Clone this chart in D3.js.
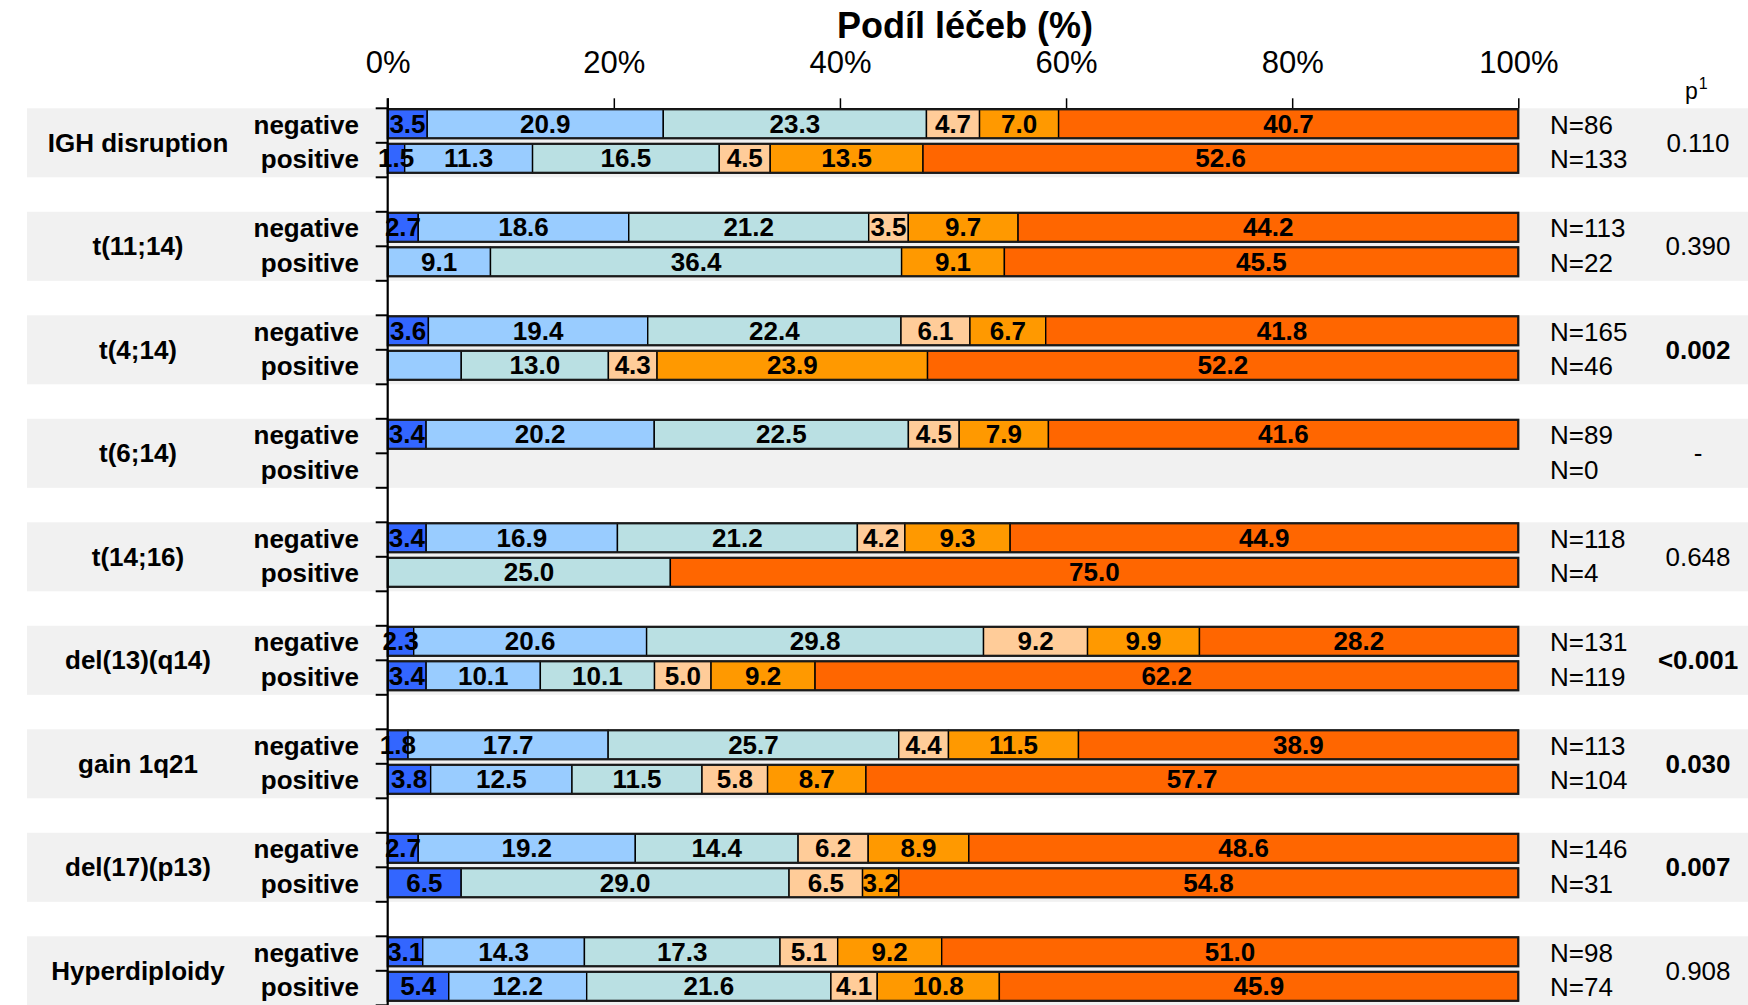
<!DOCTYPE html>
<html>
<head>
<meta charset="utf-8">
<script src="https://cdn.jsdelivr.net/npm/d3@7"></script>
<style>
  html, body { margin: 0; padding: 0; background: #ffffff; overflow: hidden; }
  svg { display: block; }
  text { font-family: "Liberation Sans", Arial, Helvetica, sans-serif; fill: #000; }
</style>
</head>
<body>
<svg id="chart" width="1748" height="1005"></svg>
<script>
// ---------------- data ----------------
const groups = ["IGH disruption", "t(11;14)", "t(4;14)", "t(6;14)", "t(14;16)",
                "del(13)(q14)", "gain 1q21", "del(17)(p13)", "Hyperdiploidy"];
const statuses = ["negative", "positive"];
const segmentKeys = ["s1", "s2", "s3", "s4", "s5", "s6"];
const segmentColors = ["#3366ff", "#99ccff", "#bae0e3", "#ffcc99", "#ff9900", "#ff6600"];

const negativeValues = [
  [3.5, 20.9, 23.3, 4.7, 7.0, 40.7],
  [2.7, 18.6, 21.2, 3.5, 9.7, 44.2],
  [3.6, 19.4, 22.4, 6.1, 6.7, 41.8],
  [3.4, 20.2, 22.5, 4.5, 7.9, 41.6],
  [3.4, 16.9, 21.2, 4.2, 9.3, 44.9],
  [2.3, 20.6, 29.8, 9.2, 9.9, 28.2],
  [1.8, 17.7, 25.7, 4.4, 11.5, 38.9],
  [2.7, 19.2, 14.4, 6.2, 8.9, 48.6],
  [3.1, 14.3, 17.3, 5.1, 9.2, 51.0]
];
const positiveValues = [
  [1.5, 11.3, 16.5, 4.5, 13.5, 52.6],
  [0, 9.1, 36.4, 0, 9.1, 45.5],
  [0, 6.5, 13.0, 4.3, 23.9, 52.2],
  [0, 0, 0, 0, 0, 0],
  [0, 0, 25.0, 0, 0, 75.0],
  [3.4, 10.1, 10.1, 5.0, 9.2, 62.2],
  [3.8, 12.5, 11.5, 5.8, 8.7, 57.7],
  [6.5, 0, 29.0, 6.5, 3.2, 54.8],
  [5.4, 12.2, 21.6, 4.1, 10.8, 45.9]
];
// segments drawn without a printed value in the original
const unlabeledSegments = [["t(4;14)", "positive", "s2"]];

const nNegative = [86, 113, 165, 89, 118, 131, 113, 146, 98];
const nPositive = [133, 22, 46, 0, 4, 119, 104, 31, 74];
const pValues = ["0.110", "0.390", "0.002", "-", "0.648", "<0.001", "0.030", "0.007", "0.908"];
const pSignificant = [false, false, true, false, false, true, true, true, false];

const xTickValues = [0, 0.2, 0.4, 0.6, 0.8, 1.0];
const titleText = "Podíl léčeb (%)";

// ---------------- layout ----------------
const svg = d3.select("#chart");
const plotLeft = 387.7, plotRight = 1518.3;
const plotTop = 108.3, rowStep = 34.5;
const barH = 29;

const rows = [];
groups.forEach((g, gi) => {
  statuses.forEach(st => {
    const vals = st === "negative" ? negativeValues[gi] : positiveValues[gi];
    const r = { key: g + "|" + st, group: g, status: st };
    segmentKeys.forEach((k, ki) => r[k] = vals[ki]);
    rows.push(r);
  });
});
const rowKeys = groups.flatMap(g => [g + "|negative", g + "|positive", g + "|gap"]);

const x = d3.scaleLinear().domain([0, 1]).range([plotLeft, plotRight]);
const y = d3.scaleBand().domain(rowKeys).range([plotTop, plotTop + rowKeys.length * rowStep]).padding(0);
const color = d3.scaleOrdinal().domain(segmentKeys).range(segmentColors);

const stacked = d3.stack().keys(segmentKeys).offset(d3.stackOffsetExpand)(rows);

// background bands
svg.append("g").selectAll("rect").data(groups).join("rect")
  .attr("x", 27).attr("width", 1748 - 27)
  .attr("y", g => y(g + "|negative"))
  .attr("height", g => y(g + "|positive") + y.bandwidth() - y(g + "|negative"))
  .attr("fill", "#f1f1f1");

// title
svg.append("text").attr("x", 965).attr("y", 38)
  .attr("text-anchor", "middle").attr("font-size", 36).attr("font-weight", "bold")
  .text(titleText);

// top axis
const xAxis = d3.axisTop(x).tickValues(xTickValues).tickFormat(d3.format(".0%"))
  .tickSize(10).tickSizeOuter(0).tickPadding(25);
const gx = svg.append("g").attr("transform", `translate(0,${plotTop})`).call(xAxis);
gx.selectAll("text").attr("font-size", 31).style("font-family", '"Liberation Sans", Arial, sans-serif').attr("fill", "#000");
gx.selectAll("line").attr("stroke", "#000").attr("stroke-width", 1.5);
gx.select(".domain").attr("stroke", "#000").attr("stroke-width", 1.5);

// segments
const barTop = key => y(key) + 1;
const segG = svg.append("g");
stacked.forEach(layer => {
  const k = layer.key;
  layer.forEach(d => {
    const w = x(d[1]) - x(d[0]);
    if (!(w > 0)) return;
    segG.append("rect")
      .attr("x", x(d[0])).attr("width", w)
      .attr("y", barTop(d.data.key)).attr("height", barH)
      .attr("fill", color(k)).attr("stroke", "#000").attr("stroke-width", 1.4);
  });
});
// bar outlines
svg.append("g").selectAll("rect").data(rows.filter(r => d3.sum(segmentKeys, k => r[k]) > 0)).join("rect")
  .attr("x", x(0)).attr("width", x(1) - x(0))
  .attr("y", r => barTop(r.key)).attr("height", barH)
  .attr("fill", "none").attr("stroke", "#1a1a1a").attr("stroke-width", 2.2);

// segment labels
const labG = svg.append("g");
stacked.forEach(layer => {
  const k = layer.key;
  layer.forEach(d => {
    const v = d.data[k];
    if (!(v > 0)) return;
    if (unlabeledSegments.some(u => u[0] === d.data.group && u[1] === d.data.status && u[2] === k)) return;
    labG.append("text")
      .attr("x", x((d[0] + d[1]) / 2))
      .attr("y", barTop(d.data.key) + barH / 2)
      .attr("text-anchor", "middle").attr("dominant-baseline", "central")
      .attr("font-size", 26).attr("font-weight", "bold")
      .text(v.toFixed(1));
  });
});

// left axis line and row ticks
svg.append("line").attr("x1", plotLeft).attr("x2", plotLeft)
  .attr("y1", plotTop - 10).attr("y2", 1005).attr("stroke", "#000").attr("stroke-width", 2.2);
svg.append("g").selectAll("line").data(rowKeys).join("line")
  .attr("x1", plotLeft - 12).attr("x2", plotLeft)
  .attr("y1", k => y(k)).attr("y2", k => y(k))
  .attr("stroke", "#000").attr("stroke-width", 2);

// status labels
svg.append("g").selectAll("text").data(rows).join("text")
  .attr("x", 359).attr("y", r => y(r.key) + y.bandwidth() / 2 - 1)
  .attr("text-anchor", "end").attr("dominant-baseline", "central")
  .attr("font-size", 26).attr("font-weight", "bold")
  .text(r => r.status);

// group labels
const groupMid = g => (y(g + "|negative") + y(g + "|positive") + y.bandwidth()) / 2;
svg.append("g").selectAll("text").data(groups).join("text")
  .attr("x", 138).attr("y", groupMid)
  .attr("text-anchor", "middle").attr("dominant-baseline", "central")
  .attr("font-size", 26).attr("font-weight", "bold")
  .text(g => g);

// N labels
svg.append("g").selectAll("text").data(rows).join("text")
  .attr("x", 1550).attr("y", r => y(r.key) + y.bandwidth() / 2 - 1)
  .attr("dominant-baseline", "central").attr("font-size", 26)
  .text(r => {
    const gi = groups.indexOf(r.group);
    return "N=" + (r.status === "negative" ? nNegative[gi] : nPositive[gi]);
  });

// p-values
svg.append("g").selectAll("text").data(groups).join("text")
  .attr("x", 1698).attr("y", groupMid)
  .attr("text-anchor", "middle").attr("dominant-baseline", "central")
  .attr("font-size", 26)
  .attr("font-weight", (g, i) => pSignificant[i] ? "bold" : "normal")
  .text((g, i) => pValues[i]);

// p header
const ph = svg.append("text").attr("x", 1685).attr("y", 99).attr("font-size", 23);
ph.append("tspan").text("p");
ph.append("tspan").attr("dy", -10).attr("dx", 1).attr("font-size", 16).text("1");
</script>
</body>
</html>
